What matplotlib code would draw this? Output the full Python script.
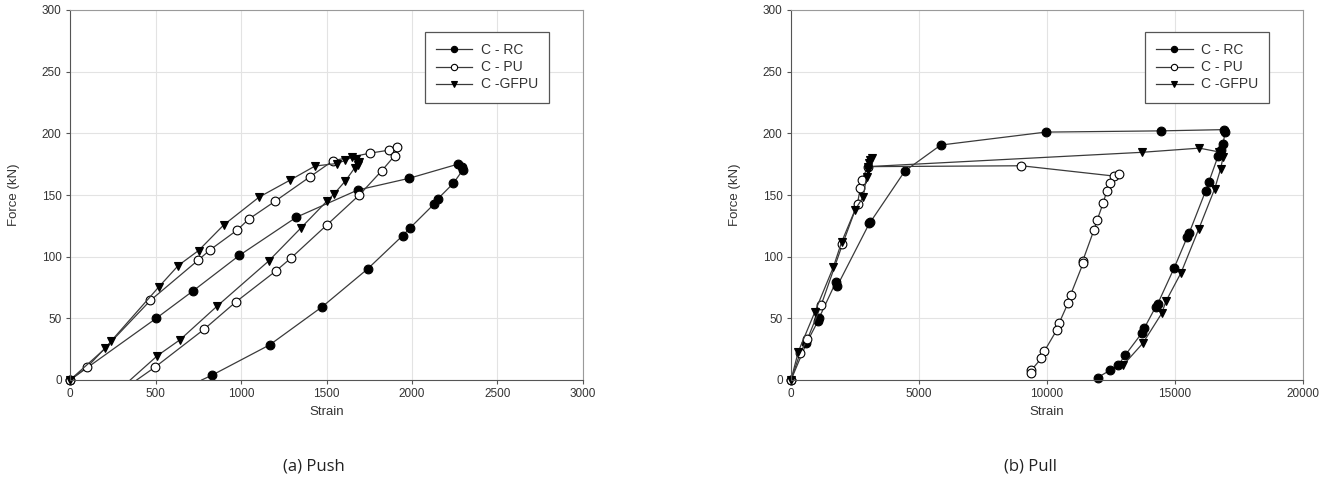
import numpy as np
import matplotlib
matplotlib.use('Agg')
import matplotlib.pyplot as plt

# push - strain / force (kN)
push_rc_x = [0, 504, 722, 990, 1324, 1682, 1982, 2268, 2290, 2298,
             2242, 2152, 2128, 1990, 1945, 1740, 1476, 1168, 832, 770]
push_rc_y = [0, 50, 72.5, 101, 132, 154, 163.5, 175, 172.5, 170.5,
             159.5, 147, 142.5, 123.5, 117, 90, 59.5, 28.5, 4, 0]
push_pu_x = [0, 100, 470, 748, 819, 978, 1046, 1200, 1406, 1538, 1757, 1863, 1912,
             1898, 1824, 1692, 1502, 1290, 1204, 970, 783, 497, 390]
push_pu_y = [0, 10.5, 64.5, 97, 105.5, 121.6, 130.5, 145, 165, 177.8, 184, 186.3, 188.8,
             181.8, 169.8, 150, 125.7, 98.6, 88.4, 63.3, 41, 10.4, 0]
push_gf_x = [0, 207, 242, 521, 633, 752, 899, 1106, 1286, 1433, 1560, 1608, 1648, 1675,
             1688, 1682, 1665, 1611, 1545, 1502, 1352, 1162, 861, 644, 511, 352]
push_gf_y = [0, 25.7, 31.8, 75.7, 92.8, 105, 125.7, 148.3, 162, 173.5, 175.5, 178, 180.5, 179.5,
             177, 174, 172, 161.5, 151, 145, 123.5, 96.5, 60, 32.7, 19.7, 0]

# pull
pull_rc_x = [0, 600, 1060, 1090, 1760, 1800, 3060, 3100, 4450, 5850, 9950, 14450, 16900,
             16950, 16880, 16800, 16690, 16320, 16200, 15560, 15480, 14960, 14330, 14250,
             13800, 13720, 13050, 12780, 12470, 11980]
pull_rc_y = [0, 29.7, 48, 50, 79.7, 76, 127, 128, 169.5, 190.5, 201, 202, 203,
             201, 191, 186.5, 182, 160.5, 153.5, 119.5, 116, 90.5, 62, 59.5,
             42, 38.5, 20, 12, 8, 2]
pull_pu_x = [0, 352, 640, 1180, 2010, 2600, 2700, 2760, 3000, 9000, 12600, 12800,
             12460, 12330, 12200, 11965, 11830, 11400, 11410, 10920, 10830, 10470, 10380,
             9900, 9780, 9390, 9380]
pull_pu_y = [0, 21.6, 33, 60.8, 110, 143, 155.4, 162, 173, 173.7, 165.4, 166.8,
             160, 153, 143.8, 130, 121.4, 96.8, 94.6, 69, 62.7, 46, 40.5,
             23.5, 17.6, 8, 6]
pull_gf_x = [0, 285, 937, 1652, 1980, 2500, 2824, 2950, 3000, 3100, 3150, 3050, 3000,
             13700, 15950, 16700, 16880, 16780, 16550, 15930, 15237, 14650, 14480,
             13740, 12980]
pull_gf_y = [0, 23, 55.4, 91.4, 112, 137.8, 148.6, 165, 170, 178, 180, 176, 173,
             184.6, 188, 185, 181, 171, 155, 122.5, 87, 64, 54,
             29.7, 12.2]

labels = ['C - RC', 'C - PU', 'C -GFPU']
line_col = '#3a3a3a'
tick_font = ['Liberation Sans', 'DejaVu Sans']

fig = plt.figure(figsize=(13.29, 4.83), dpi=100)


def draw_panel(ax, series, xmax, xstep, caption, cap_x, open_end):
    styles = [dict(marker='o', mfc='black'),
              dict(marker='o', mfc='white'),
              dict(marker='v', mfc='black')]
    for (xs, ys), st, lab in zip(series, styles, labels):
        n = len(xs)
        # push curves run down to the axis without a marker at the end
        mk = list(range(n - 1)) if open_end else None
        ax.plot(xs, ys, color=line_col, lw=0.9, marker=st['marker'], markevery=mk,
                mfc=st['mfc'], mec='black', mew=0.8, ms=6.3, label=lab, clip_on=False)
    ax.set_xlim(0, xmax)
    ax.set_ylim(0, 300)
    ax.set_xticks(np.arange(0, xmax + 1, xstep))
    ax.set_yticks(np.arange(0, 301, 50))
    ax.grid(True, color='#e3e3e3', lw=0.8)
    ax.set_axisbelow(True)
    for s in ['left', 'bottom']:
        ax.spines[s].set_color('#555555')
    for s in ['top', 'right']:
        ax.spines[s].set_color('#9a9a9a')
    ax.tick_params(direction='out', length=3, color='#555555', labelsize=8.5,
                   labelcolor='#333333', pad=3)
    for t in ax.get_xticklabels() + ax.get_yticklabels():
        t.set_family(tick_font)
    ax.set_xlabel('Strain', fontsize=9.5, color='#333333', family=tick_font, labelpad=4)
    ax.set_ylabel('Force (kN)', fontsize=9.5, color='#333333', family=tick_font, labelpad=16)
    leg = ax.legend(loc='upper right', bbox_to_anchor=(0.934, 0.94), fancybox=False,
                    edgecolor='#555555', framealpha=1, prop={'family': tick_font, 'size': 10},
                    handlelength=2.6, borderpad=0.8, labelspacing=0.22, handletextpad=0.6,
                    markerscale=0.72, borderaxespad=0)
    leg.get_frame().set_linewidth(0.9)
    for t in leg.get_texts():
        t.set_color('#333333')
    fig.text(cap_x, 0.035, caption, ha='center', va='center', fontsize=12,
             family=['Open Sans', 'DejaVu Sans'], color='#222222')


ax1 = fig.add_axes([70 / 1329, 1 - 380 / 483, 513 / 1329, 370 / 483])
draw_panel(ax1, [(push_rc_x, push_rc_y), (push_pu_x, push_pu_y), (push_gf_x, push_gf_y)],
           3000, 500, '(a) Push', 314 / 1329, True)

ax2 = fig.add_axes([791 / 1329, 1 - 380 / 483, 512 / 1329, 370 / 483])
draw_panel(ax2, [(pull_rc_x, pull_rc_y), (pull_pu_x, pull_pu_y), (pull_gf_x, pull_gf_y)],
           20000, 5000, '(b) Pull', 1031 / 1329, False)

fig.savefig('out.png', dpi=100)
